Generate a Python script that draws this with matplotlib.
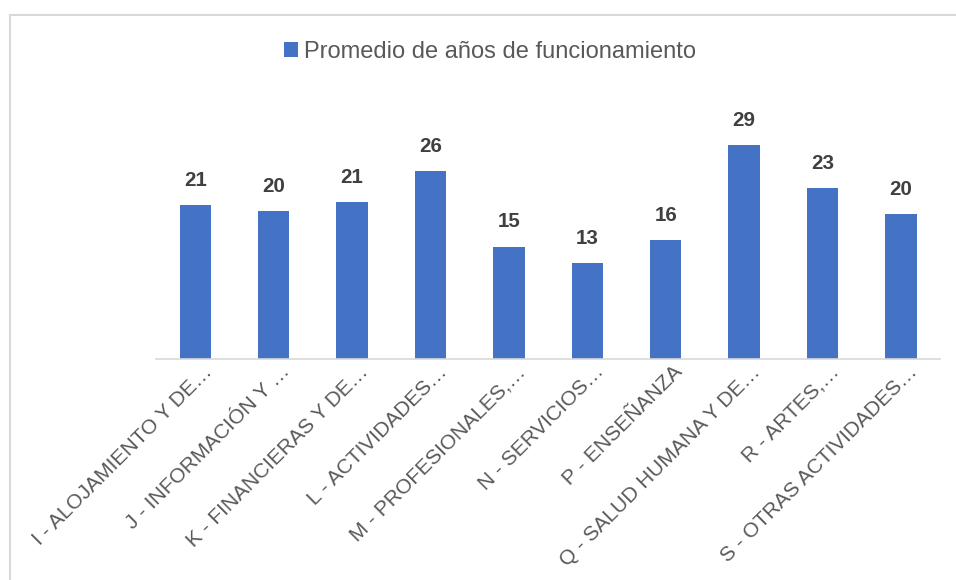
import matplotlib
matplotlib.use("Agg")
import matplotlib.pyplot as plt
import matplotlib.transforms as mtransforms
from matplotlib.patches import Rectangle

plt.rcParams['font.family'] = ['Liberation Sans', 'DejaVu Sans']

categories = [
    "I - ALOJAMIENTO Y DE…",
    "J - INFORMACIÓN Y …",
    "K - FINANCIERAS Y DE…",
    "L - ACTIVIDADES…",
    "M - PROFESIONALES,…",
    "N - SERVICIOS…",
    "P - ENSEÑANZA",
    "Q - SALUD HUMANA Y DE…",
    "R - ARTES,…",
    "S - OTRAS ACTIVIDADES…",
]
promedio_anos = [20.96, 20.18, 21.37, 25.65, 15.30, 13.04, 16.22, 29.2, 23.29, 19.77]
series_name = "Promedio de años de funcionamiento"

bar_color = "#4472C4"
grey_line = "#d9d9d9"
text_grey = "#595959"
label_grey = "#404040"

fig = plt.figure(figsize=(9.56, 5.80), dpi=100)
ax = fig.add_axes([0.1632, 0.3816, 0.8201, 0.4415])

x = list(range(len(categories)))
bars = ax.bar(x, promedio_anos, width=0.4, color=bar_color, label=series_name, zorder=2)

# value labels above each bar
for rect, v in zip(bars, promedio_anos):
    ax.annotate(f"{v:.0f}", (rect.get_x() + rect.get_width() / 2, v),
                xytext=(0, 11), textcoords="offset points",
                ha="center", va="bottom", fontsize=14.8, fontweight="bold",
                color=label_grey)

ax.set_xlim(-0.5, len(categories) - 0.5)
ax.set_ylim(0, 35)
ax.set_yticks([])
for side in ["top", "left", "right"]:
    ax.spines[side].set_visible(False)
ax.spines["bottom"].set_color(grey_line)
ax.spines["bottom"].set_linewidth(1.2)

ax.set_xticks(x)
ax.tick_params(axis="x", length=0, pad=0)
ax.set_xticklabels(categories, rotation=45, ha="right", va="baseline",
                   rotation_mode="anchor", fontsize=15, color=text_grey)
shift = mtransforms.ScaledTranslation(0.175, -0.14, fig.dpi_scale_trans)
for lbl in ax.get_xticklabels():
    lbl.set_transform(lbl.get_transform() + shift)

fig.legend(loc="center", bbox_to_anchor=(0.5126, 0.910), frameon=False,
           fontsize=17, labelcolor=text_grey, handlelength=0.6,
           handleheight=0.6, handletextpad=0.25)

# light frame around the chart area
fig.patches.append(Rectangle((10 / 956, -0.2), 2.0, 1.2 - 14.5 / 580,
                             transform=fig.transFigure, fill=False,
                             edgecolor=grey_line, linewidth=1.5))

fig.savefig("out.png", dpi=100, facecolor="white")
